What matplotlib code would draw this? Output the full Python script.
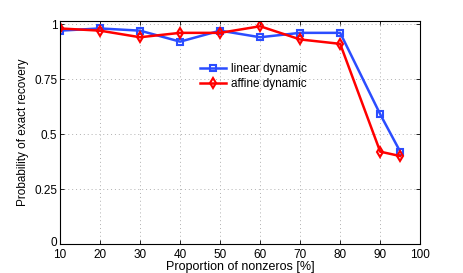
import matplotlib
matplotlib.use("Agg")
import matplotlib.pyplot as plt
import matplotlib.transforms as mtransforms
import numpy as np

# proportion of nonzeros [%]
nonzeros = [10, 20, 30, 40, 50, 60, 70, 80, 90, 95]
linear_dyn = [0.97, 0.98, 0.97, 0.92, 0.97, 0.94, 0.96, 0.96, 0.59, 0.42]
affine_dyn = [0.98, 0.97, 0.94, 0.96, 0.96, 0.99, 0.93, 0.91, 0.42, 0.40]

yticks = [0, 0.25, 0.5, 0.75, 1]
ytick_labels = ["0", "0.25", "0.5", "0.75", "1"]
xticks = [10, 20, 30, 40, 50, 60, 70, 80, 90, 100]

plt.rcParams['font.family'] = ['Liberation Sans', 'DejaVu Sans']

fig = plt.figure(figsize=(4.63, 2.73), dpi=100)
ax = fig.add_axes([0.1296, 0.106, 0.778, 0.818])

ax.plot(nonzeros, linear_dyn, color="#2b4dff", lw=1.8, marker="s", ms=5,
        mfc="none", mew=1.5, label="linear dynamic")
ax.plot(nonzeros, affine_dyn, color="#ff0000", lw=1.8, marker="d", ms=5.5,
        mfc="none", mew=1.5, label="affine dynamic")

ax.set_xlim(10, 100)
ax.set_ylim(0, 1.015)
ax.set_xticks(xticks)
ax.set_yticks(yticks)
ax.set_yticklabels(ytick_labels)
ax.tick_params(direction="in", labelsize=8.5, length=3, width=0.6, pad=2,
               top=True, right=True)
ax.tick_params(axis="x", pad=3.5)
ax.grid(True, linestyle=(0, (1, 3)), color="#b0b0b0", lw=0.7)
for s in ax.spines.values():
    s.set_linewidth(0.8)

# lift the "0" a touch so it doesn't sit on the "10"
lab0 = ax.yaxis.get_major_ticks()[0].label1
lab0.set_transform(lab0.get_transform() +
                   mtransforms.ScaledTranslation(0, 2 / 72, fig.dpi_scale_trans))

ax.set_xlabel("Proportion of nonzeros [%]", fontsize=9, labelpad=0)
ax.set_ylabel("Probability of exact recovery", fontsize=8.5, labelpad=4)

ax.legend(loc="upper left", bbox_to_anchor=(0.375, 0.83), frameon=False,
          fontsize=8.5, handlelength=2.2, handletextpad=0.4,
          labelspacing=0.2, borderaxespad=0)

fig.savefig("out.png", dpi=100)
